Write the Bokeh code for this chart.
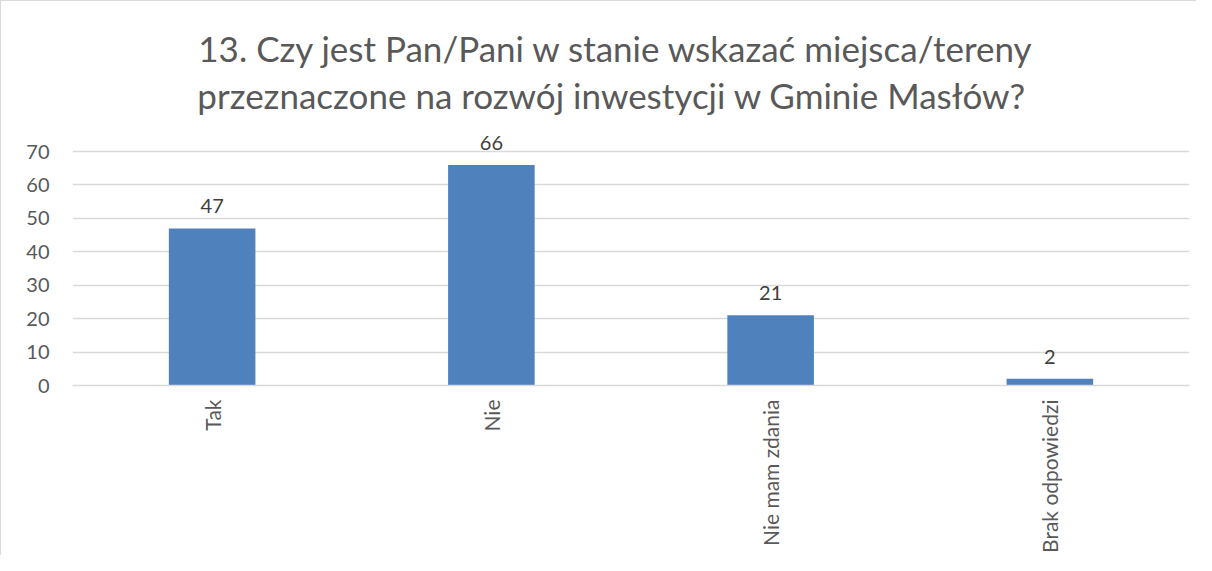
import math
from bokeh.plotting import figure
from bokeh.models import Range1d, Label, ColumnDataSource, FactorRange
from bokeh.core.properties import value
from bokeh.embed import file_html
from bokeh.resources import INLINE

categories = ["Tak", "Nie", "Nie mam zdania", "Brak odpowiedzi"]
counts = [47, 66, 21, 2]
title_lines = ["13. Czy jest Pan/Pani w stanie wskazać miejsca/tereny",
               "przeznaczone na rozwój inwestycji  w Gminie Masłów?"]
y_ticks = [0, 10, 20, 30, 40, 50, 60, 70]

FONT = "Lato"
src = ColumnDataSource(dict(cat=categories, val=counts, lab=[str(v) for v in counts]))

# frame spans the full height above the axis so that labels and title are not clipped;
# axis value 70 lands where the reference's top gridline is.
p = figure(width=1196, height=555, output_backend="svg", toolbar_location=None,
           x_range=FactorRange(*categories, range_padding=0), y_range=Range1d(0, 114.9),
           min_border_left=71, min_border_right=8, min_border_top=0, min_border_bottom=171)
p.title = None
p.styles = {"border-top": "1px solid #d9d9d9", "border-left": "1px solid #d9d9d9"}

p.vbar(x="cat", top="val", width=0.31, source=src, fill_color="#4f81bd", line_color=None)
p.text(x="cat", y="val", text="lab", source=src, text_align="center", text_baseline="bottom",
       y_offset=-15, text_font=value(FONT), text_font_size="20px", text_color="#404040")

for line, ty in zip(title_lines, [101.1, 87.0]):
    p.add_layout(Label(x=1.948, y=ty, text=line, text_align="center", text_baseline="middle",
                       text_font=FONT, text_font_size="35px", text_color="#595959"))

p.outline_line_color = None
p.background_fill_color = "white"
p.xgrid.grid_line_color = None
p.ygrid.grid_line_color = "#d9d9d9"
p.ygrid.grid_line_width = 1.5
p.yaxis.ticker = y_ticks
p.yaxis.axis_line_color = None
p.yaxis.major_tick_line_color = None
p.yaxis.minor_tick_line_color = None
p.yaxis.major_tick_out = 0
p.yaxis.major_label_standoff = 23
p.yaxis.major_label_text_font = FONT
p.yaxis.major_label_text_font_size = "20px"
p.yaxis.major_label_text_color = "#595959"

p.xaxis.axis_line_color = "#d9d9d9"
p.xaxis.axis_line_width = 1.5
p.xaxis.major_tick_line_color = None
p.xaxis.major_tick_out = 0
p.xaxis.major_label_orientation = math.pi / 2
p.xaxis.major_label_standoff = 14
p.xaxis.major_label_text_font = FONT
p.xaxis.major_label_text_font_size = "21px"
p.xaxis.major_label_text_color = "#595959"

open("out.html", "w").write(file_html(p, INLINE))
